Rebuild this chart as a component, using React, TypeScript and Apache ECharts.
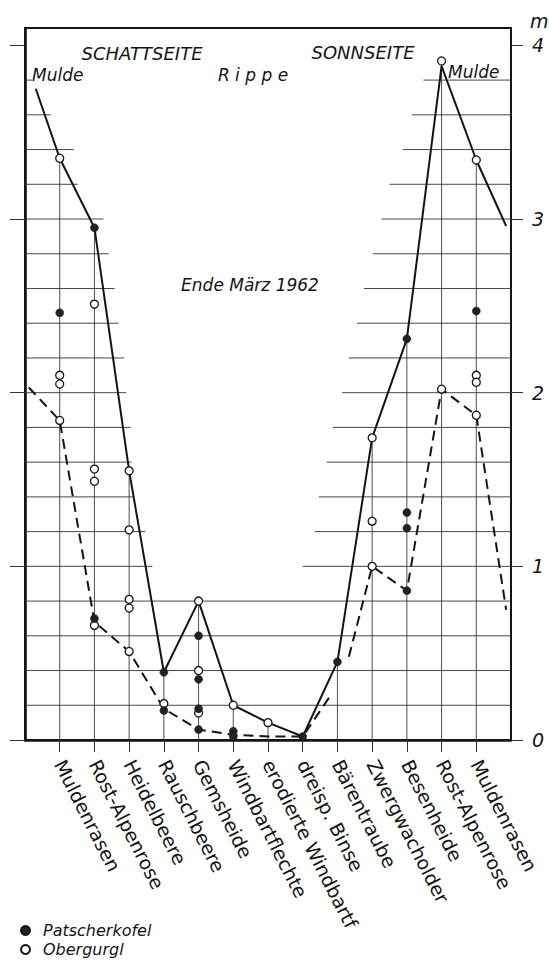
import React, { useEffect, useRef } from "react";
import * as echarts from "echarts";

// ---- data ----
const categories = [
  "Muldenrasen",
  "Rost-Alpenrose",
  "Heidelbeere",
  "Rauschbeere",
  "Gemsheide",
  "Windbartflechte",
  "erodierte Windbartf",
  "dreisp. Binse",
  "Bärentraube",
  "Zwergwacholder",
  "Besenheide",
  "Rost-Alpenrose",
  "Muldenrasen",
];

// positions of categories on the profile (0 = left edge, 14 = right edge)
const categoryPositions = [1, 2, 3, 4, 5, 6, 7, 8, 9, 10, 11, 12, 13];

// snow depth (m), solid profile
const solidProfile: [number, number][] = [
  [0.31, 3.75], [1, 3.35], [2, 2.95], [3, 1.55], [4, 0.39], [5, 0.8], [6, 0.2],
  [7, 0.1], [8, 0.02], [9, 0.45], [10, 1.74], [11, 2.31], [12, 3.88], [13, 3.34], [13.86, 2.96],
];

// snow depth (m), dashed profile ('-' = gap in the line)
const dashedProfile: [number, number | string][] = [
  [0.11, 2.03], [1, 1.84], [2, 0.68], [3, 0.51], [4, 0.18], [5, 0.06], [6, 0.03],
  [7, 0.02], [8, 0.02], [8.78, 0.25], [9.05, "-"], [9.33, 0.48], [10, 1.0], [11, 0.86],
  [12, 2.02], [13, 1.87], [13.86, 0.75],
];

// single measurements per category
const patscherkofel: number[][] = [
  [2.46], [2.95, 0.7], [], [0.39, 0.17], [0.6, 0.35, 0.18, 0.06], [0.05, 0.02], [],
  [0.02], [0.45], [], [2.31, 1.31, 1.22, 0.86], [], [2.47],
];
const obergurgl: number[][] = [
  [3.35, 2.1, 2.05, 1.84], [2.51, 1.56, 1.49, 0.66], [1.55, 1.21, 0.81, 0.76, 0.51], [0.21],
  [0.8, 0.4, 0.155], [0.2], [0.1], [], [], [1.74, 1.26, 1.0], [], [3.91, 2.02],
  [3.34, 2.1, 2.06, 1.87],
];

// y axis
const yTicks = [0, 1, 2, 3, 4];
// horizontal grid levels and how far they reach on the shady / sunny side
const gridLevels = [0.2, 0.4, 0.6, 0.8, 1.0, 1.2, 1.4, 1.6, 1.8, 2.0, 2.2, 2.4, 2.6, 2.8, 3.0, 3.2, 3.4, 3.6, 3.8];
const gridShadeEnd = [14, 14, 14, 14, 3.67, 3.47, 3.12, 3.07, 3.04, 2.92, 2.86, 2.69, 2.58, 2.41, 2.26, 1.52, 1.4, 0.74, 0.2];
const gridSunStart = [14, 14, 14, 14, 8.0, 8.35, 8.46, 8.69, 8.87, 9.13, 9.33, 9.56, 9.76, 10.02, 10.27, 10.5, 10.88, 11.14, 11.48];

const FONT = "'DejaVu Sans', 'Noto Sans', sans-serif";
const INK = "#141414";

export default function App() {
  const ref = useRef<HTMLDivElement>(null);

  useEffect(() => {
    if (!ref.current) return;
    const chart = echarts.init(ref.current, null, { renderer: "svg" });

    const pointsOf = (arr: number[][]) => {
      const out: [number, number][] = [];
      arr.forEach((vals, i) => vals.forEach((v) => out.push([categoryPositions[i], v])));
      return out;
    };

    const verticalData = categoryPositions.map((p, i) => {
      const solidAt = solidProfile.find((d) => d[0] === p);
      const top = Math.max(
        ...(patscherkofel[i] || []),
        ...(obergurgl[i] || []),
        solidAt ? solidAt[1] : 0
      );
      return [p, top];
    });

    const hgridData = gridLevels.map((lv, i) => [lv, gridShadeEnd[i], gridSunStart[i]]);

    const gridStyle = { stroke: "#333", lineWidth: 0.9 };

    const option: any = {
      animation: false,
      backgroundColor: "#fff",
      grid: {
        left: 25,
        right: 38,
        top: 28,
        bottom: 221,
        show: true,
        borderColor: INK,
        borderWidth: 2,
        containLabel: false,
        outerBoundsMode: "none",
      },
      xAxis: {
        type: "value",
        min: 0,
        max: 14,
        position: "bottom",
        splitLine: { show: false },
        axisLine: { show: true, lineStyle: { color: INK, width: 2.6 } },
        axisTick: {
          show: true,
          customValues: categoryPositions,
          length: 12,
          lineStyle: { color: "#333", width: 1 },
        },
        axisLabel: {
          show: true,
          customValues: categoryPositions,
          formatter: (v: number) => categories[categoryPositions.indexOf(v)] ?? "",
          rotate: -63,
          margin: 21,
          fontSize: 19,
          fontFamily: FONT,
          color: INK,
        },
      },
      yAxis: [
        {
          type: "value",
          min: 0,
          max: 4.1,
          position: "left",
          splitLine: { show: false },
          axisLine: { show: true, lineStyle: { color: INK, width: 2.6 } },
          axisTick: { show: true, customValues: yTicks, length: 15, lineStyle: { color: "#333", width: 1 } },
          axisLabel: { show: false },
        },
        {
          type: "value",
          min: 0,
          max: 4.1,
          position: "right",
          splitLine: { show: false },
          axisLine: { show: true, lineStyle: { color: INK, width: 2 } },
          axisTick: { show: true, customValues: yTicks, length: 12, lineStyle: { color: "#333", width: 1 } },
          axisLabel: {
            show: true,
            customValues: yTicks,
            margin: 21,
            fontSize: 19,
            fontStyle: "italic",
            fontFamily: FONT,
            color: INK,
          },
        },
      ],
      legend: {
        data: ["Patscherkofel", "Obergurgl"],
        orient: "vertical",
        left: 20,
        top: 921,
        height: 40,
        padding: 0,
        icon: "circle",
        itemWidth: 9,
        itemHeight: 9,
        itemGap: 0,
        selectedMode: false,
        textStyle: {
          fontSize: 16,
          lineHeight: 19,
          fontStyle: "italic",
          fontFamily: FONT,
          color: INK,
          padding: [0, 0, 0, 8],
        },
      },
      graphic: [
        { type: "text", x: 142, y: 53, style: { text: "SCHATTSEITE", font: `italic 18px ${FONT}`, fill: INK, textAlign: "center", textVerticalAlign: "middle" } },
        { type: "text", x: 363, y: 52, style: { text: "SONNSEITE", font: `italic 18px ${FONT}`, fill: INK, textAlign: "center", textVerticalAlign: "middle" } },
        { type: "text", x: 32, y: 75, style: { text: "Mulde", font: `italic 17px ${FONT}`, fill: INK, textAlign: "left", textVerticalAlign: "middle" } },
        { type: "text", x: 253, y: 75, style: { text: "R i p p e", font: `italic 17px ${FONT}`, fill: INK, textAlign: "center", textVerticalAlign: "middle" } },
        { type: "text", x: 448, y: 72, style: { text: "Mulde", font: `italic 17px ${FONT}`, fill: INK, textAlign: "left", textVerticalAlign: "middle" } },
        { type: "text", x: 250, y: 285, style: { text: "Ende März 1962", font: `italic 17px ${FONT}`, fill: INK, textAlign: "center", textVerticalAlign: "middle" } },
        { type: "text", x: 530, y: 21, style: { text: "m", font: `italic 19px ${FONT}`, fill: INK, textAlign: "left", textVerticalAlign: "middle" } },
      ],
      series: [
        {
          type: "custom",
          name: "hgrid",
          xAxisIndex: 0,
          yAxisIndex: 0,
          z: 1,
          silent: true,
          encode: { x: 1, y: 0 },
          data: hgridData,
          renderItem: (params: any, api: any) => {
            const lv = api.value(0);
            const end = api.value(1);
            const start = api.value(2);
            const a = api.coord([0, lv]);
            const b = api.coord([14, lv]);
            const children: any[] = [];
            if (end >= 14) {
              children.push({ type: "line", shape: { x1: a[0], y1: a[1], x2: b[0], y2: b[1] }, style: gridStyle });
            } else {
              const e = api.coord([end, lv]);
              const s = api.coord([start, lv]);
              children.push({ type: "line", shape: { x1: a[0], y1: a[1], x2: e[0], y2: e[1] }, style: gridStyle });
              children.push({ type: "line", shape: { x1: s[0], y1: s[1], x2: b[0], y2: b[1] }, style: gridStyle });
            }
            return { type: "group", children };
          },
        },
        {
          type: "custom",
          name: "vgrid",
          xAxisIndex: 0,
          yAxisIndex: 0,
          z: 1,
          silent: true,
          data: verticalData,
          renderItem: (params: any, api: any) => {
            const p = api.value(0);
            const top = api.value(1);
            const a = api.coord([p, 0]);
            const b = api.coord([p, top]);
            return {
              type: "line",
              shape: { x1: a[0], y1: a[1], x2: b[0], y2: b[1] },
              style: { stroke: "#3a3a3a", lineWidth: 0.9 },
            };
          },
        },
        {
          type: "line",
          name: "solid",
          xAxisIndex: 0,
          yAxisIndex: 0,
          z: 3,
          symbol: "none",
          silent: true,
          data: solidProfile,
          lineStyle: { color: INK, width: 2 },
        },
        {
          type: "line",
          name: "dashed",
          xAxisIndex: 0,
          yAxisIndex: 0,
          z: 3,
          symbol: "none",
          silent: true,
          connectNulls: false,
          data: dashedProfile,
          lineStyle: { color: INK, width: 2, type: [10, 6] },
        },
        {
          type: "scatter",
          name: "Obergurgl",
          xAxisIndex: 0,
          yAxisIndex: 0,
          z: 4,
          symbol: "circle",
          symbolSize: 8,
          data: pointsOf(obergurgl),
          itemStyle: { color: "#fff", borderColor: INK, borderWidth: 1.3, opacity: 1 },
        },
        {
          type: "scatter",
          name: "Patscherkofel",
          xAxisIndex: 0,
          yAxisIndex: 0,
          z: 5,
          symbol: "circle",
          symbolSize: 8,
          data: pointsOf(patscherkofel),
          itemStyle: { color: "#222", borderColor: "#111", borderWidth: 0.5, opacity: 1 },
        },
      ],
    };

    chart.setOption(option);
    return () => chart.dispose();
  }, []);

  return (
    <div
      ref={ref}
      style={{ position: "absolute", left: 0, top: 0, width: 549, height: 961, background: "#fff" }}
    />
  );
}
